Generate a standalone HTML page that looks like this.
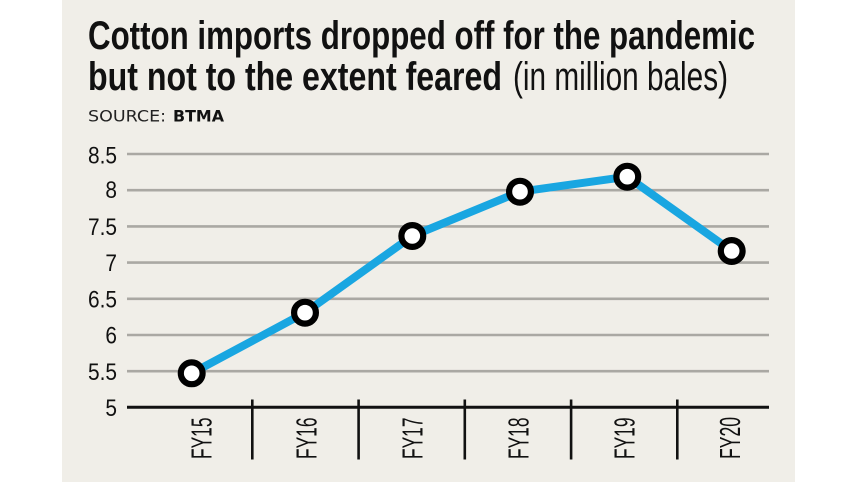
<!DOCTYPE html>
<html>
<head>
<meta charset="utf-8">
<style>
  html, body { margin: 0; padding: 0; background: #ffffff; }
  body { width: 857px; height: 482px; overflow: hidden; }
  svg { display: block; }
</style>
</head>
<body>
<svg width="857" height="482" viewBox="0 0 857 482" xmlns="http://www.w3.org/2000/svg">
  <rect x="0" y="0" width="857" height="482" fill="#ffffff"/>
  <rect x="62" y="0" width="733" height="482" fill="#f0eee8"/>

  <!-- Title -->
  <text x="88" y="49" font-family="Liberation Sans, sans-serif" font-weight="bold" font-size="40" fill="#111" textLength="667" lengthAdjust="spacingAndGlyphs">Cotton imports dropped off for the pandemic</text>
  <text x="88" y="90" font-family="Liberation Sans, sans-serif" font-weight="bold" font-size="40" fill="#111" textLength="414" lengthAdjust="spacingAndGlyphs">but not to the extent feared</text>
  <text x="513" y="90" font-family="Liberation Sans, sans-serif" font-size="40" fill="#111" textLength="215" lengthAdjust="spacingAndGlyphs">(in million bales)</text>

  <!-- Source -->
  <text x="88" y="121.5" font-family="DejaVu Sans, sans-serif" font-size="16" fill="#222" textLength="78" lengthAdjust="spacingAndGlyphs">SOURCE:</text>
  <text x="173" y="121.5" font-family="DejaVu Sans, sans-serif" font-weight="bold" font-size="16" fill="#111" textLength="51" lengthAdjust="spacingAndGlyphs">BTMA</text>

  <!-- Gridlines -->
  <g stroke="#aaa8a3" stroke-width="2.6">
    <line x1="127" y1="154" x2="769" y2="154"/>
    <line x1="127" y1="190.2" x2="769" y2="190.2"/>
    <line x1="127" y1="226.4" x2="769" y2="226.4"/>
    <line x1="127" y1="262.6" x2="769" y2="262.6"/>
    <line x1="127" y1="298.8" x2="769" y2="298.8"/>
    <line x1="127" y1="335" x2="769" y2="335"/>
    <line x1="127" y1="371.2" x2="769" y2="371.2"/>
  </g>
  <!-- Axis -->
  <line x1="127" y1="407.3" x2="769" y2="407.3" stroke="#111" stroke-width="3"/>
  <g stroke="#111" stroke-width="2.6">
    <line x1="252.3" y1="399.5" x2="252.3" y2="459.5"/>
    <line x1="358.6" y1="399.5" x2="358.6" y2="459.5"/>
    <line x1="464.8" y1="399.5" x2="464.8" y2="459.5"/>
    <line x1="571.1" y1="399.5" x2="571.1" y2="459.5"/>
    <line x1="677.3" y1="399.5" x2="677.3" y2="459.5"/>
  </g>

  <!-- Y labels -->
  <g font-family="Liberation Sans, sans-serif" font-size="24.5" fill="#111" text-anchor="end">
    <text x="117" y="163.5" textLength="29" lengthAdjust="spacingAndGlyphs">8.5</text>
    <text x="117" y="198" textLength="11.6" lengthAdjust="spacingAndGlyphs">8</text>
    <text x="117" y="235" textLength="29" lengthAdjust="spacingAndGlyphs">7.5</text>
    <text x="117" y="271" textLength="11.6" lengthAdjust="spacingAndGlyphs">7</text>
    <text x="117" y="307.5" textLength="29" lengthAdjust="spacingAndGlyphs">6.5</text>
    <text x="117" y="343.5" textLength="11.6" lengthAdjust="spacingAndGlyphs">6</text>
    <text x="117" y="380" textLength="29" lengthAdjust="spacingAndGlyphs">5.5</text>
    <text x="117" y="416" textLength="11.6" lengthAdjust="spacingAndGlyphs">5</text>
  </g>

  <!-- X labels (rotated) -->
  <g font-family="Liberation Sans, sans-serif" font-size="29" fill="#111">
    <text transform="translate(211.7,459) rotate(-90)" x="0" y="0" textLength="41.5" lengthAdjust="spacingAndGlyphs">FY15</text>
    <text transform="translate(316.7,459) rotate(-90)" x="0" y="0" textLength="41.5" lengthAdjust="spacingAndGlyphs">FY16</text>
    <text transform="translate(422.7,459) rotate(-90)" x="0" y="0" textLength="41.5" lengthAdjust="spacingAndGlyphs">FY17</text>
    <text transform="translate(528.5,459) rotate(-90)" x="0" y="0" textLength="41.5" lengthAdjust="spacingAndGlyphs">FY18</text>
    <text transform="translate(634.3,459) rotate(-90)" x="0" y="0" textLength="41.5" lengthAdjust="spacingAndGlyphs">FY19</text>
    <text transform="translate(740,459) rotate(-90)" x="0" y="0" textLength="42" lengthAdjust="spacingAndGlyphs">FY20</text>
  </g>

  <!-- Series line -->
  <polyline points="191.7,373.3 305,312.7 412.3,236 520,191.7 627.3,176.7 731.7,251" fill="none" stroke="#19a6e1" stroke-width="8" stroke-linejoin="round" stroke-linecap="round"/>

  <!-- Markers -->
  <g fill="#ffffff" stroke="#000000" stroke-width="6.2">
    <circle cx="191.7" cy="373.3" r="10.9"/>
    <circle cx="305" cy="312.7" r="10.9"/>
    <circle cx="412.3" cy="236" r="10.9"/>
    <circle cx="520" cy="191.7" r="10.9"/>
    <circle cx="627.3" cy="176.7" r="10.9"/>
    <circle cx="731.7" cy="251" r="10.9"/>
  </g>
</svg>
</body>
</html>
